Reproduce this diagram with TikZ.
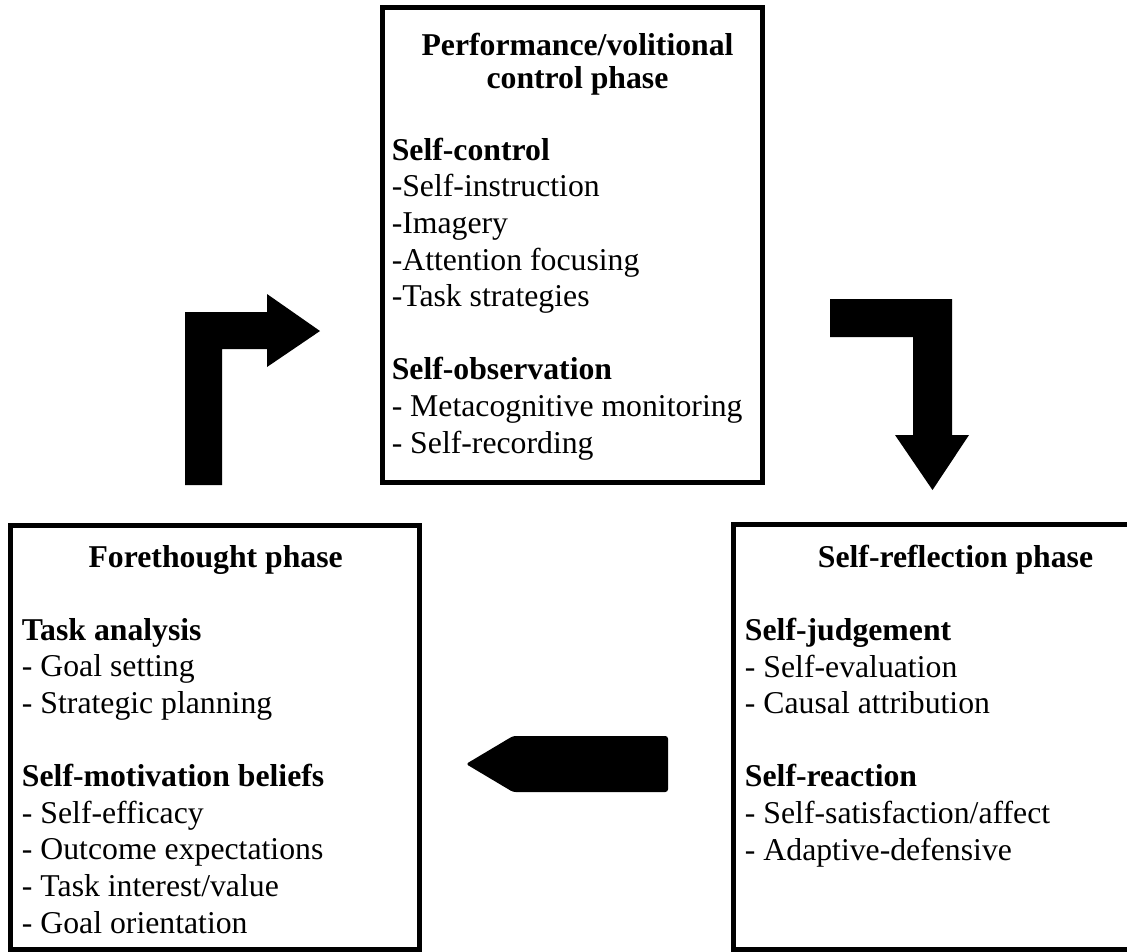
\documentclass[tikz,border=0pt]{standalone}
\usepackage{fontspec}
\setmainfont{Liberation Serif}
\usetikzlibrary{positioning}

\begin{document}
\begin{tikzpicture}[x=0.75pt,y=-0.75pt,
	phase box/.style={rectangle,draw,line width=3.75pt,inner sep=0pt},
	phase title/.style={font=\fontsize{23.8}{27.45}\selectfont\bfseries,align=center,inner sep=0pt},
	phase text/.style={font=\fontsize{23.8}{27.45}\selectfont,align=left,inner sep=0pt},
	block arrow/.style={fill=black,draw=none}]

		\clip (0,0) rectangle (1127,951);

		\node[phase box][minimum width=285pt,minimum height=356.6pt](perf) at (572,245.25){};
		\node[phase box][minimum width=306.75pt,minimum height=318pt](fore) at (215,737.5){};
		\node[phase box][minimum width=332.25pt,minimum height=318.75pt](refl) at (955,737){};

		\node[phase title][anchor=base](perftitle) at (577.5,88){Performance/volitional\\[-2.7pt]control phase};
		\node[phase title][anchor=base](foretitle) at (215.7,567){Forethought phase};
		\node[phase title][anchor=base](refltitle) at (955.5,567){Self-reflection phase};

		\node[phase text][anchor=base west](perftext) at (391.5,453){\textbf{Self-control}\\-Self-instruction\\-Imagery\\-Attention focusing\\-Task strategies\\[27.45pt]\textbf{Self-observation}\\- Metacognitive monitoring\\- Self-recording};
		\node[phase text][anchor=base west](foretext) at (21.7,933){\textbf{Task analysis}\\- Goal setting\\- Strategic planning\\[27.45pt]\textbf{Self-motivation beliefs}\\- Self-efficacy\\- Outcome expectations\\- Task interest/value\\- Goal orientation};
		\node[phase text][anchor=base west](refltext) at (744.7,860){\textbf{Self-judgement}\\- Self-evaluation\\- Causal attribution\\[27.45pt]\textbf{Self-reaction}\\- Self-satisfaction/affect\\- Adaptive-defensive};

		\fill[block arrow] (185,485) -- (185,312) -- (267,312) -- (267,294) -- (320,331) -- (267,367) -- (267,349) -- (222,349) -- (222,485) -- cycle;
		\fill[block arrow] (830,299) -- (952,299) -- (952,435) -- (969,435) -- (932.5,490) -- (895,435) -- (913,435) -- (913,337) -- (830,337) -- cycle;
		\fill[block arrow][rounded corners=2pt] (668,736) -- (513,736) -- (466,764) -- (513,792) -- (668,792) -- cycle;

	\end{tikzpicture}
\end{document}
